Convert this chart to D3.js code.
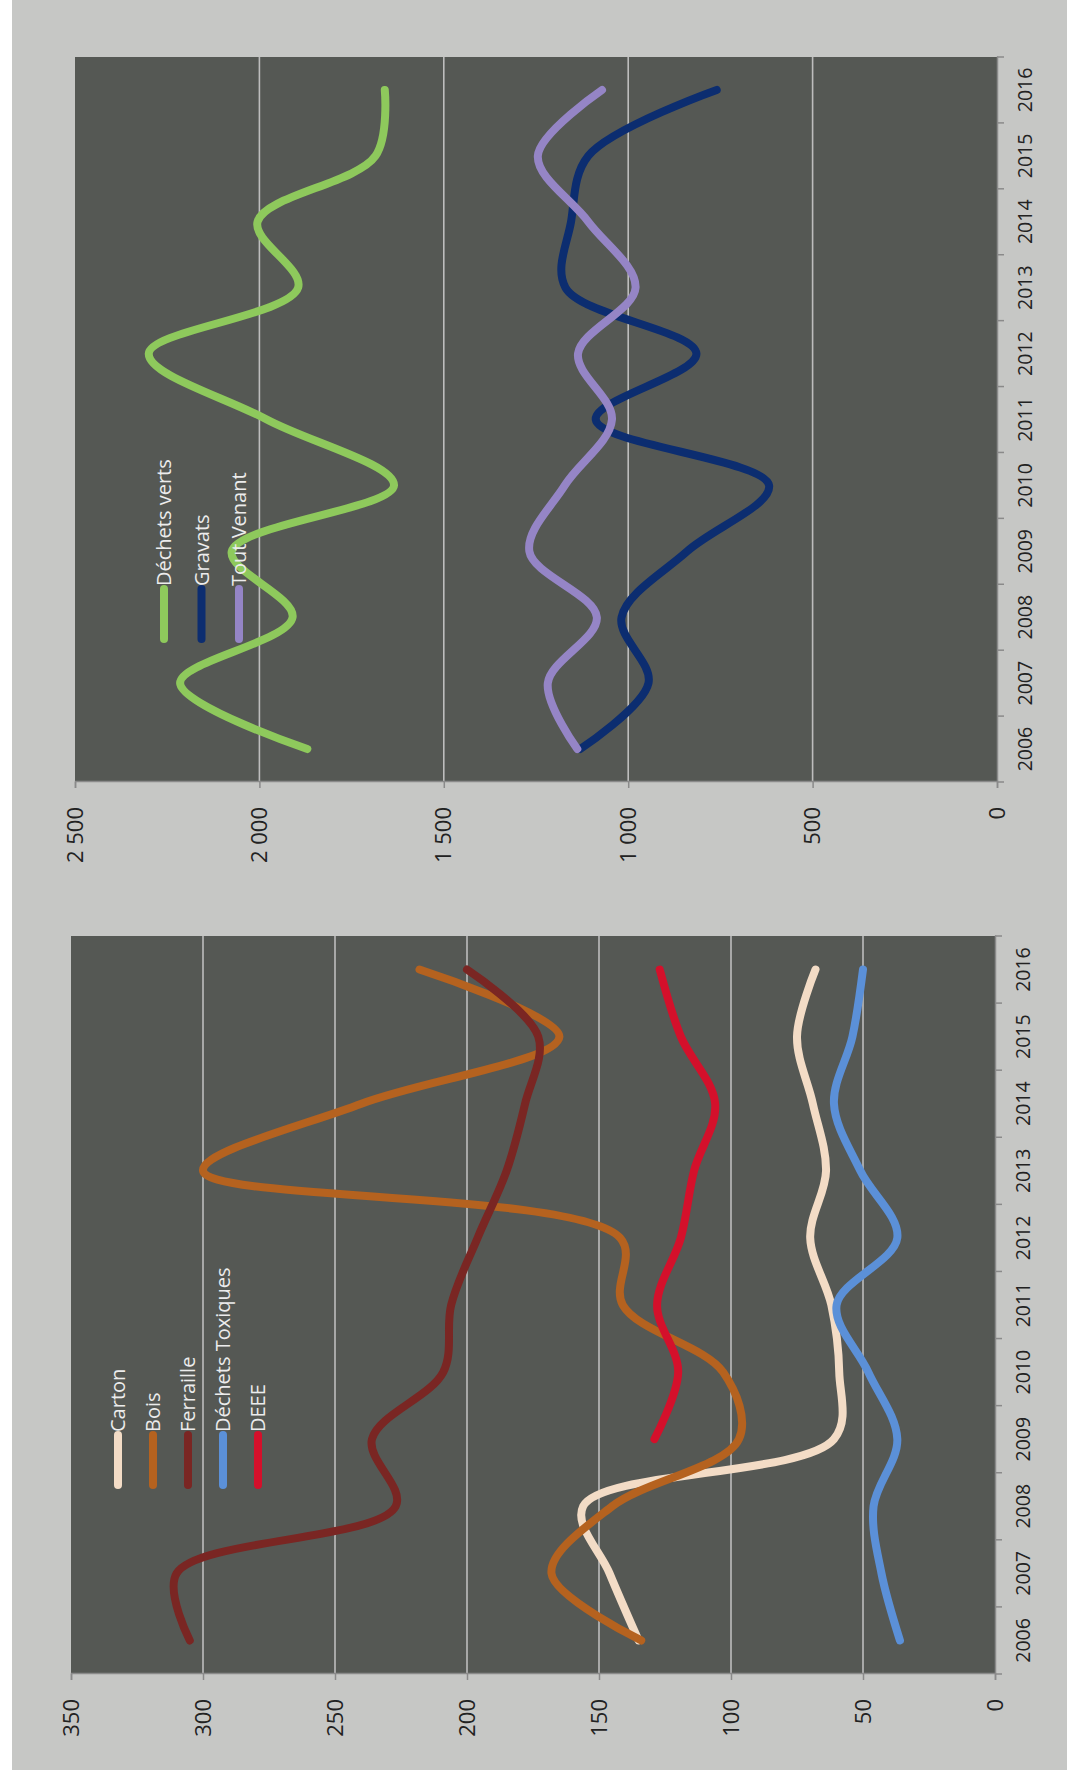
<!DOCTYPE html>
<html>
<head>
<meta charset="utf-8">
<script src="https://cdn.jsdelivr.net/npm/d3@7"></script>
<style>
  body { margin: 0; background: #ffffff; }
  svg { display: block; }
  text { font-family: "Open Sans", "DejaVu Sans", sans-serif; }
</style>
</head>
<body>
<div id="page"></div>
<script>
// Years shared by both charts (category axis).
const years = [2006, 2007, 2008, 2009, 2010, 2011, 2012, 2013, 2014, 2015, 2016];

// Top chart: large tonnages.
const bigTicks = [0, 500, 1000, 1500, 2000, 2500];
const bigNames = ["Déchets verts", "Gravats", "Tout Venant"];
const dechetsVerts = [1870, 2215, 1910, 2075, 1635, 1980, 2300, 1895, 2005, 1685, 1660];
const gravats      = [1130, 945, 1018, 840, 618, 1088, 815, 1170, 1155, 1108, 760];
const toutVenant   = [1138, 1218, 1085, 1268, 1172, 1044, 1136, 980, 1108, 1245, 1071];

// Bottom chart: small tonnages (DEEE only from 2009).
const smallTicks = [0, 50, 100, 150, 200, 250, 300, 350];
const smallNames = ["Carton", "Bois", "Ferraille", "Déchets Toxiques", "DEEE"];
const carton          = [135, 146, 156, 61, 59, 62, 70, 64, 69, 75, 68];
const bois            = [134, 168, 145, 97, 103, 141, 142, 300, 240, 165, 218];
const ferraille       = [305, 310, 227, 236, 209, 206, 196, 185, 178, 173, 200];
const dechetsToxiques = [36, 43, 46, 37, 48, 60, 37, 51, 61, 54, 50];
const deee            = [null, null, null, 129, 120, 128, 119, 114, 106, 119, 127];

const W = 1067, H = 1777;
const frFormat = d3.formatLocale({ decimal: ",", thousands: " ", grouping: [3], currency: ["", " €"] }).format(",d");

const svg = d3.select("#page").append("svg")
  .attr("width", W)
  .attr("height", H);

// Scanned page look: white margin, grey paper.
svg.append("rect").attr("width", W).attr("height", H).attr("fill", "#ffffff");
svg.append("rect")
  .attr("x", 12).attr("y", 0)
  .attr("width", W - 12).attr("height", 1770)
  .attr("fill", "#c6c7c5");

// Draws one chart in its normal orientation, then turns it a quarter left.
function drawChart(opts) {
  const w = opts.w, h = opts.h;
  const g = svg.append("g")
    .attr("transform", `translate(${opts.left},${opts.bottom}) rotate(-90)`);

  const x = d3.scaleBand().domain(years).range([0, w]);
  const y = d3.scaleLinear().domain([0, opts.max]).range([h, 0]);

  g.append("rect")
    .attr("width", w).attr("height", h)
    .attr("fill", "#555854");

  // Gridlines
  g.append("g").selectAll("line")
    .data(opts.ticks.filter(t => t > 0 && t < opts.max))
    .join("line")
    .attr("x1", 0).attr("x2", w)
    .attr("y1", d => y(d)).attr("y2", d => y(d))
    .attr("stroke", "#bdbdbd")
    .attr("stroke-width", 1.6);

  // Value axis
  const yAxis = g.append("g")
    .call(d3.axisLeft(y).tickValues(opts.ticks).tickSize(6).tickPadding(19).tickFormat(frFormat));
  yAxis.select(".domain").attr("stroke", "#8a8a8a").attr("stroke-width", 1.5);
  yAxis.selectAll(".tick line").attr("stroke", "#8a8a8a").attr("stroke-width", 1.5);
  yAxis.selectAll("text").attr("fill", "#222").style("font-size", "22px");

  // Category axis: labels centred, ticks on the boundaries
  const xAxis = g.append("g")
    .attr("transform", `translate(0,${h})`)
    .call(d3.axisBottom(x).tickSize(0).tickPadding(21));
  xAxis.select(".domain").attr("stroke", "#8a8a8a").attr("stroke-width", 1.5);
  xAxis.selectAll("text").attr("fill", "#222").style("font-size", "19.5px");
  xAxis.selectAll(".bound")
    .data(years.map(d => x(d)).concat([w]))
    .join("line")
    .attr("class", "bound")
    .attr("x1", d => d).attr("x2", d => d)
    .attr("y1", 0).attr("y2", 7)
    .attr("stroke", "#8a8a8a")
    .attr("stroke-width", 1.5);

  // Smoothed lines
  const line = d3.line()
    .defined(d => d != null)
    .x((d, i) => x(years[i]) + x.bandwidth() / 2)
    .y(d => y(d))
    .curve(d3.curveCatmullRom.alpha(0.5));

  g.append("g").selectAll("path")
    .data(opts.series)
    .join("path")
    .attr("d", d => line(d.values))
    .attr("fill", "none")
    .attr("stroke", d => d.color)
    .attr("stroke-width", 8)
    .attr("stroke-linecap", "round")
    .attr("stroke-linejoin", "round");

  // Legend
  const leg = g.append("g").selectAll("g")
    .data(opts.series)
    .join("g")
    .attr("transform", (d, i) => `translate(${opts.legU},${opts.legV + i * opts.legStep})`);
  leg.append("line")
    .attr("x1", 0).attr("x2", opts.legLen)
    .attr("stroke", d => d.color)
    .attr("stroke-width", 8)
    .attr("stroke-linecap", "round");
  leg.append("text")
    .attr("x", opts.legLen + 3)
    .attr("dy", "0.35em")
    .attr("fill", "#ececec")
    .style("font-size", "20px")
    .text(d => d.name);
}

drawChart({
  left: 75, bottom: 782, w: 725, h: 922,
  max: 2500, ticks: bigTicks,
  series: [
    { name: bigNames[0], values: dechetsVerts, color: "#8ec95c" },
    { name: bigNames[1], values: gravats, color: "#0c2d70" },
    { name: bigNames[2], values: toutVenant, color: "#9585c6" }
  ],
  legU: 143, legV: 89, legStep: 37.5, legLen: 50
});

drawChart({
  left: 71, bottom: 1674, w: 738, h: 924,
  max: 350, ticks: smallTicks,
  series: [
    { name: smallNames[0], values: carton, color: "#f3dcc6" },
    { name: smallNames[1], values: bois, color: "#b5621f" },
    { name: smallNames[2], values: ferraille, color: "#7a2623" },
    { name: smallNames[3], values: dechetsToxiques, color: "#5b90d8" },
    { name: smallNames[4], values: deee, color: "#d4102b" }
  ],
  legU: 189, legV: 47, legStep: 35, legLen: 50
});
</script>
</body>
</html>
